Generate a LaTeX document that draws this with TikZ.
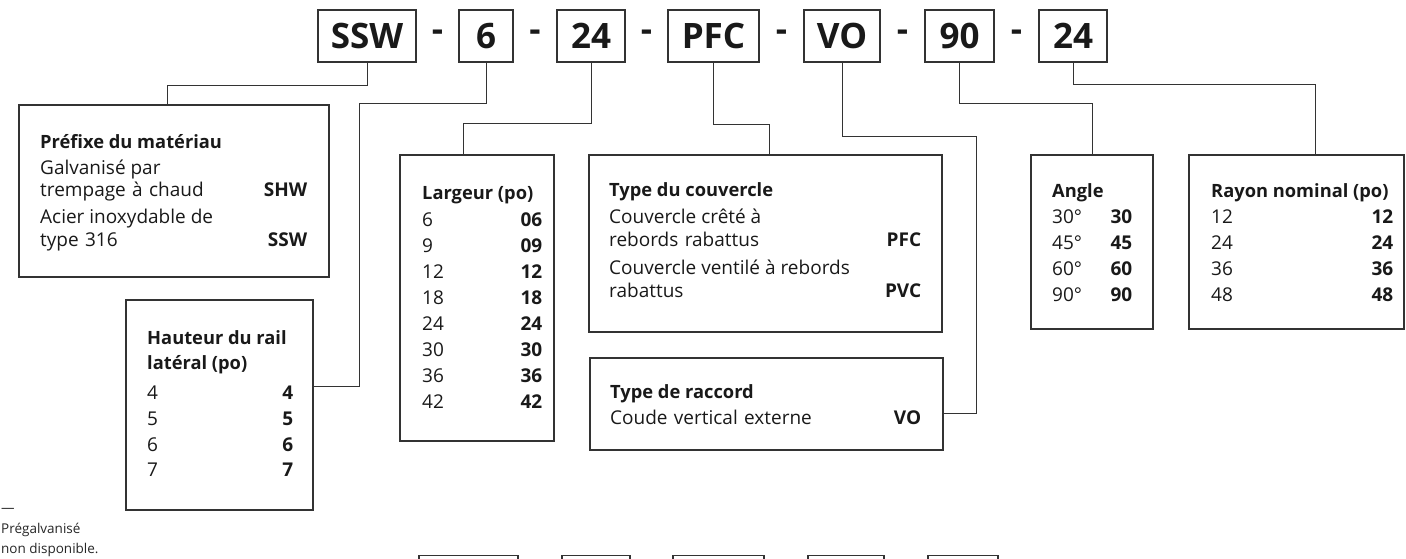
\documentclass[tikz,border=0pt]{standalone}
\usepackage{fontspec}
\setmainfont{Open Sans}
\usetikzlibrary{positioning}

\begin{document}
\begin{tikzpicture}[
  x=1pt, y=-1pt,
  code/.style  = {rectangle, draw=black!80, line width=1.3pt,
                  minimum height=52pt, inner sep=0pt,
                  font=\fontsize{35}{40}\selectfont\bfseries, text=black!90},
  sep/.style   = {inner sep=0pt, font=\fontsize{35}{40}\selectfont\bfseries,
                  text=black!90},
  card/.style  = {rectangle, draw=black!80, line width=1.3pt, inner sep=0pt},
  hd/.style    = {anchor=base west, inner sep=0pt,
                  font=\fontsize{18.3}{22}\selectfont\bfseries, text=black!90},
  txt/.style   = {anchor=base west, inner sep=0pt,
                  font=\fontsize{19}{22}\selectfont, text=black!90},
  row/.style   = {txt, text width=#1},
  link/.style  = {draw=black!80, line width=1pt},
  note/.style  = {anchor=base west, inner sep=0pt,
                  font=\fontsize{13.5}{16}\selectfont, text=black!85}
]
\useasboundingbox (0,0) rectangle (1406,558);

%%% ---- CODE ROW (top) ----
\node[code, minimum width=98pt] (cssw) at (367,36)    {SSW};
\node[sep]                             at (437.5,36)  {-};
\node[code, minimum width=54pt] (csix) at (486,36)    {6};
\node[sep]                             at (535,36)    {-};
\node[code, minimum width=68pt] (cwid) at (591,36)    {24};
\node[sep]                             at (646.5,36)  {-};
\node[code, minimum width=91pt] (cpfc) at (713.5,36)  {PFC};
\node[sep]                             at (781.5,36)  {-};
\node[code, minimum width=76pt] (cvo)  at (842,36)    {VO};
\node[sep]                             at (902.5,36)  {-};
\node[code, minimum width=69pt] (cang) at (959.5,36)  {90};
\node[sep]                             at (1016.5,36) {-};
\node[code, minimum width=68pt] (crad) at (1073,36)   {24};

%%% ---- CARDS ----
\node[card, minimum width=310pt, minimum height=172pt] (pref)  at (174,191)    {};
\node[card, minimum width=187pt, minimum height=210pt] (haut)  at (219.5,405)  {};
\node[card, minimum width=154pt, minimum height=286pt] (larg)  at (477,298)    {};
\node[card, minimum width=353pt, minimum height=177pt] (couv)  at (765.5,243.5){};
\node[card, minimum width=353pt, minimum height=92pt]  (racc)  at (766.5,404)  {};
\node[card, minimum width=122pt, minimum height=174pt] (angle) at (1092,242)   {};
\node[card, minimum width=215pt, minimum height=174pt] (rayon) at (1296.5,242) {};

% material prefix
\node[hd]       at (40,148) {Préfixe du matériau};
\node[txt]      at (40,174) {Galvanisé par};
\node[row=267pt] at (40,196) {trempage à chaud\hfill\textbf{SHW}};
\node[txt]      at (40,223) {Acier inoxydable de};
\node[row=267pt] at (40,246) {type 316\hfill\textbf{SSW}};

% side rail height
\node[hd]       at (147,344) {Hauteur du rail};
\node[hd]       at (147,369) {latéral (po)};
\node[row=146pt] at (147,399) {4\hfill\textbf{4}};
\node[row=146pt] at (147,425) {5\hfill\textbf{5}};
\node[row=146pt] at (147,451) {6\hfill\textbf{6}};
\node[row=146pt] at (147,476) {7\hfill\textbf{7}};

% width
\node[hd]       at (422,199) {Largeur (po)};
\node[row=120pt] at (422,226) {6\hfill\textbf{06}};
\node[row=120pt] at (422,252) {9\hfill\textbf{09}};
\node[row=120pt] at (422,278) {12\hfill\textbf{12}};
\node[row=120pt] at (422,304) {18\hfill\textbf{18}};
\node[row=120pt] at (422,330) {24\hfill\textbf{24}};
\node[row=120pt] at (422,356) {30\hfill\textbf{30}};
\node[row=120pt] at (422,382) {36\hfill\textbf{36}};
\node[row=120pt] at (422,408) {42\hfill\textbf{42}};

% cover type
\node[hd]       at (609,196) {Type du couvercle};
\node[txt]      at (609,223) {Couvercle crêté à};
\node[row=312pt] at (609,246) {rebords rabattus\hfill\textbf{PFC}};
\node[txt]      at (609,274) {Couvercle ventilé à rebords};
\node[row=312pt] at (609,297) {rabattus\hfill\textbf{PVC}};

% fitting type
\node[hd]       at (610,398) {Type de raccord};
\node[row=311pt] at (610,424) {Coude vertical externe\hfill\textbf{VO}};

% angle
\node[hd]       at (1052,197) {Angle};
\node[row=80pt]  at (1052,223) {30°\hfill\textbf{30}};
\node[row=80pt]  at (1052,249) {45°\hfill\textbf{45}};
\node[row=80pt]  at (1052,275) {60°\hfill\textbf{60}};
\node[row=80pt]  at (1052,301) {90°\hfill\textbf{90}};

% nominal radius
\node[hd]       at (1211,197) {Rayon nominal (po)};
\node[row=182pt] at (1211,223) {12\hfill\textbf{12}};
\node[row=182pt] at (1211,249) {24\hfill\textbf{24}};
\node[row=182pt] at (1211,275) {36\hfill\textbf{36}};
\node[row=182pt] at (1211,301) {48\hfill\textbf{48}};

%%% ---- CONNECT ----
\draw[link] (cssw.south) -- (cssw.south |- 0,85)  -| ([xshift=-7pt]pref.north);
\draw[link] (csix.south) -- (csix.south |- 0,103) -| (359,386) -- (haut.east |- 0,386);
\draw[link] (cwid.south) -- (cwid.south |- 0,123) -| ([xshift=-14pt]larg.north);
\draw[link] (cpfc.south) -- (cpfc.south |- 0,124) -| ([xshift=3.5pt]couv.north);
\draw[link] (cvo.south)  -- (cvo.south |- 0,136)  -| (976,413) -- (racc.east |- 0,413);
\draw[link] (cang.south) -- (cang.south |- 0,103) -| (angle.north);
\draw[link] (crad.south) -- (crad.south |- 0,84)  -| ([xshift=18.5pt]rayon.north);

%%% ---- NEXT ROW (cut off at bottom) ----
\node[card, anchor=north, minimum width=99pt, minimum height=60pt] (b1) at (468.5,555) {};
\node[card, anchor=north, minimum width=68pt, minimum height=60pt] (b2) at (596,555)   {};
\node[card, anchor=north, minimum width=91pt, minimum height=60pt] (b3) at (718.5,555) {};
\node[card, anchor=north, minimum width=76pt, minimum height=60pt] (b4) at (846,555)   {};
\node[card, anchor=north, minimum width=70pt, minimum height=60pt] (b5) at (963,555)   {};

%%% ---- NOTE ----
\node[note] (dash)  at (1,512) {—};
\node[note] (note1) at (1,533) {Prégalvanisé};
\node[note] (note2) at (1,553) {non disponible.};
\end{tikzpicture}
\end{document}
